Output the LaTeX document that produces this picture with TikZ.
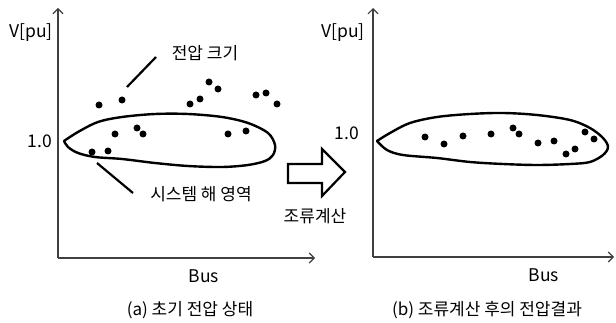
\documentclass[tikz,border=0pt]{standalone}
\usepackage{fontspec}
\setmainfont{Noto Sans CJK KR}
\usetikzlibrary{arrows.meta}
\begin{document}
\begin{tikzpicture}[x=1pt,y=-1pt,
  axis/.style={line width=1.1pt,draw=black!75,-{Straight Barb[length=5pt,width=10pt,line width=1.1pt]}},
  blob/.style={line width=2.4pt,line join=round,line cap=round},
  dot/.style={fill=black},
  lbl/.style={font=\fontsize{17}{19}\selectfont,inner sep=0pt},
  lat/.style={font=\fontsize{17.5}{19}\selectfont,inner sep=0pt},
  leader/.style={line width=2.2pt},
  bigarrow/.style={line width=2.2pt,fill=white,line join=miter}]
\useasboundingbox (0,0) rectangle (616,323);
% axes
\coordinate (o1) at (58,258);
\coordinate (y1) at (58,8);
\coordinate (x1) at (315,258);
\coordinate (o2) at (373,257);
\coordinate (y2) at (373,8);
\coordinate (x2) at (614,257);
\draw[axis] (o1) -- (y1);
\draw[axis] (o1) -- (x1);
\draw[axis] (o2) -- (y2);
\draw[axis] (o2) -- (x2);
% axis labels
\node[lat] (v1) at (31,33) {V[pu]};
\node[lat] (v2) at (343,33) {V[pu]};
\node[lat] (one1) at (40,141) {1.0};
\node[lat] (one2) at (347,133) {1.0};
\node[lat] (bus1) at (204,276) {Bus};
\node[lat] (bus2) at (544,275) {Bus};
\node[lbl] (capa) at (190,310) {(a) 초기 전압 상태};
\node[lbl] (capb) at (487,310) {(b) 조류계산 후의 전압결과};
% left blob
\draw[blob] plot[smooth,tension=0.55] coordinates {(64,141) (78,132) (98,122) (122,117) (155,114) (188,114) (222,117) (248,123) (268,133) (275,145) (273,155) (265,161) (248,165) (222,167) (188,166) (155,163) (122,159) (95,157) (78,153) (68,147) (64,141)};
% right blob
\draw[blob] plot[smooth,tension=0.55] coordinates {(377,141) (390,133) (410,123) (437,117) (470,114) (503,113) (537,115) (570,120) (590,128) (603,138) (608,147) (603,155) (590,162) (570,164) (537,165) (503,164) (470,162) (437,158) (403,155) (387,150) (377,141)};
% left dots
\foreach \p in {(99,105),(122,100),(115,134),(137,128),(143,134),(92,152),(108,151),(190,104),(200,99),(209,82),(218,89),(228,134),(246,131),(256,95),(266,93),(277,104)}
  \fill[dot] \p circle (3.5pt);
% right dots
\foreach \p in {(425,137),(444,144),(463,136),(491,134),(513,128),(519,134),(538,143),(554,141),(566,154),(575,149),(585,132),(594,139)}
  \fill[dot] \p circle (3.5pt);
% annotations
\node[lbl] (mag) at (205,53) {전압 크기};
\node[lbl] (sol) at (201,194) {시스템 해 영역};
\coordinate (m1) at (127,87);
\coordinate (m2) at (156,57);
\coordinate (s1) at (97,163);
\coordinate (s2) at (133,193);
\draw[leader] (m1) -- (m2);
\draw[leader] (s1) -- (s2);
% block arrow
\draw[bigarrow] (288,164) -- (322,164) -- (322,149) -- (345,172) -- (322,196) -- (322,183) -- (288,183) -- cycle;
\node[lbl] (calc) at (315,216) {조류계산};
\end{tikzpicture}
\end{document}
